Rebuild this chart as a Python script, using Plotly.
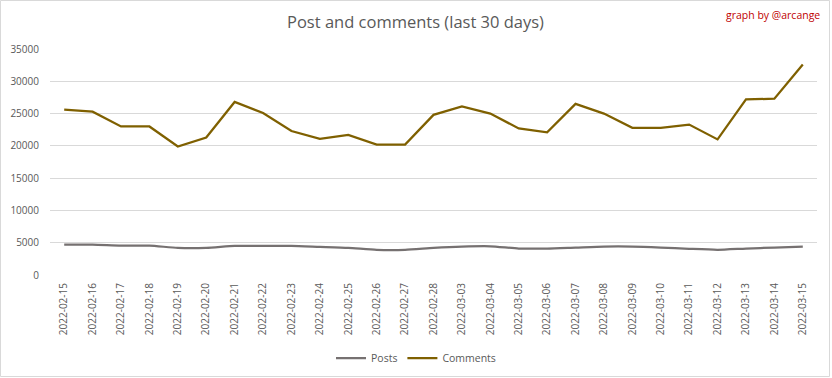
import plotly.graph_objects as go

dates = ["2022-02-15", "2022-02-16", "2022-02-17", "2022-02-18", "2022-02-19", "2022-02-20",
         "2022-02-21", "2022-02-22", "2022-02-23", "2022-02-24", "2022-02-25", "2022-02-26",
         "2022-02-27", "2022-02-28", "2022-03-03", "2022-03-04", "2022-03-05", "2022-03-06",
         "2022-03-07", "2022-03-08", "2022-03-09", "2022-03-10", "2022-03-11", "2022-03-12",
         "2022-03-13", "2022-03-14", "2022-03-15"]

posts = [4700, 4700, 4550, 4550, 4200, 4200, 4500, 4500, 4500, 4350, 4200, 3900, 3900,
         4200, 4400, 4450, 4100, 4100, 4250, 4400, 4400, 4250, 4050, 3900, 4100, 4250, 4400]

comments = [25600, 25300, 23000, 23000, 19900, 21300, 26800, 25100, 22300, 21100, 21700,
            20200, 20200, 24800, 26100, 25000, 22700, 22100, 26500, 25000, 22800, 22800,
            23300, 21000, 27200, 27300, 32600]

y_ticks = [0, 5000, 10000, 15000, 20000, 25000, 30000, 35000]

W, H = 832, 378
L, R, T, B = 50, 15, 49, 103
pw, ph = W - L - R, H - T - B

fig = go.Figure()
fig.add_trace(go.Scatter(x=dates, y=posts, name="Posts", mode="lines",
                         line=dict(color="#767171", width=2.25, shape="spline", smoothing=0.6)))
fig.add_trace(go.Scatter(x=dates, y=comments, name="Comments", mode="lines",
                         line=dict(color="#7F6000", width=2.25)))

font_fam = "Open Sans, Noto Sans, sans-serif"

fig.update_layout(
    width=W, height=H,
    margin=dict(l=L, r=R, t=T, b=B, autoexpand=False),
    paper_bgcolor="white", plot_bgcolor="white",
    font=dict(family=font_fam, color="#595959", size=10),
    title=dict(text="Post and comments (last 30 days)", x=(415.5) / W, xanchor="center",
               y=1 - 22 / H, yanchor="middle", xref="container", yref="container",
               font=dict(family=font_fam, size=16.5, color="#595959")),
    showlegend=True,
    legend=dict(orientation="h", x=(416 - L) / pw, xanchor="center", y=-(358 - T - ph) / ph,
                yanchor="middle", font=dict(size=10.5, color="#595959"),
                itemwidth=30, tracegroupgap=0, bgcolor="rgba(0,0,0,0)"),
    xaxis=dict(type="category", range=[-0.5, len(dates) - 0.5], tickangle=-90,
               showgrid=False, showline=False, zeroline=False, ticks="", automargin=False,
               tickfont=dict(size=10, color="#595959"), ticklabelstandoff=5),
    yaxis=dict(range=[0, 35000], tickvals=y_ticks, ticktext=[str(v) for v in y_ticks],
               showgrid=True, gridcolor="#d9d9d9", gridwidth=1, zeroline=False, automargin=False,
               showline=False, ticks="", tickfont=dict(size=10, color="#595959"),
               ticklabelstandoff=10),
)

fig.add_annotation(text="graph by @arcange", xref="paper", yref="paper",
                   x=(822 - L) / pw, xanchor="right", y=1 + (T - 15) / ph, yanchor="middle",
                   showarrow=False, font=dict(family=font_fam, size=10.5, color="#C00000"))

# chart border
fig.add_shape(type="rect", xref="paper", yref="paper",
              x0=(0.5 - L) / pw, x1=(829.5 - L) / pw,
              y0=-(376.5 - T - ph) / ph, y1=1 + (T - 0.5) / ph,
              line=dict(color="#d9d9d9", width=1), fillcolor="rgba(0,0,0,0)", layer="below")

fig.write_html("out.html", config={"displayModeBar": False},
               post_script="document.body.style.margin='0px';document.body.style.overflow='hidden';")
